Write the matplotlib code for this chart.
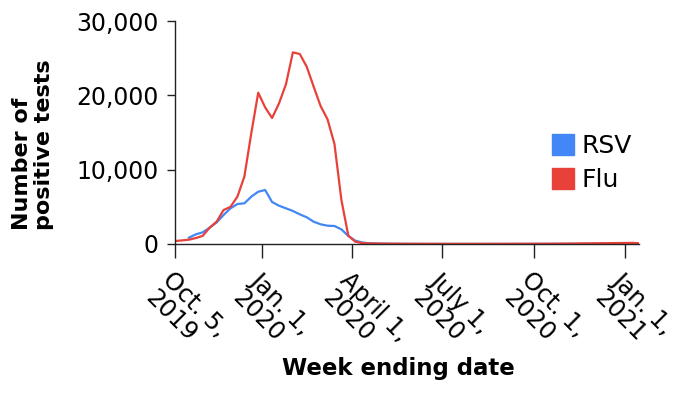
import matplotlib.pyplot as plt
import matplotlib.patches as mpatches
import matplotlib.ticker as mticker
import numpy as np
import pandas as pd

plt.rcParams['font.family'] = ['DejaVu Sans']

week_ending = pd.date_range("2019-10-05", periods=68, freq="7D")

flu = [400, 480, 580, 800, 1100, 2200, 3000, 4570, 5000, 6370,
       9060, 14900, 20350, 18380, 16950, 18920, 21480, 25780, 25560, 23850,
       21160, 18560, 16770, 13450, 5920, 1120, 310, 130, 80,
       60, 50, 40, 35, 30, 30, 25, 25, 25, 20,
       20, 20, 20, 20, 20, 20, 20, 25, 25, 25,
       30, 30, 30, 35, 35, 40, 45, 50, 60, 70,
       80, 90, 100, 110, 120, 130, 140, 150, 100]

rsv = [np.nan, np.nan, 850, 1300, 1570, 2200, 2900, 3900, 4800, 5380,
       5470, 6370, 7030, 7260, 5650, 5150, 4800, 4440, 3990, 3590,
       3000, 2650, 2460, 2420, 1970, 1080, 450, 200, 90,
       60, 40, 30, 25, 20, 15, 15, 10, 10, 10,
       10, 10, 10, 10, 10, 10, 10, 10, 10, 10,
       10, 10, 10, 10, 10, 10, 10, 15, 15, 15,
       20, 20, 20, 25, 25, 30, 30, 30, 30]

tick_dates = pd.to_datetime(["2019-10-05", "2020-01-01", "2020-04-01",
                             "2020-07-01", "2020-10-01", "2021-01-01"])
tick_labels = ["Oct. 5,\n2019", "Jan. 1,\n2020", "April 1,\n2020",
               "July 1,\n2020", "Oct. 1,\n2020", "Jan. 1,\n2021"]

rsv_color = '#4287f5'
flu_color = '#e8413a'

fig = plt.figure(figsize=(6.8, 3.95), dpi=100)
ax = fig.add_axes([0.2574, 0.3823, 0.683, 0.5645])

ax.plot(week_ending, rsv, color=rsv_color, lw=1.6)
ax.plot(week_ending, flu, color=flu_color, lw=1.6)

ax.set_xlim(week_ending[0], week_ending[-1])
ax.set_ylim(0, 30000)
ax.set_yticks([0, 10000, 20000, 30000])
ax.yaxis.set_major_formatter(mticker.FuncFormatter(lambda v, p: f"{int(v):,}"))

ax.set_xticks(tick_dates)
ax.set_xticklabels(tick_labels, rotation=-45, ha='left', va='top',
                   rotation_mode='anchor', linespacing=1.05)

for s in ['top', 'right']:
    ax.spines[s].set_visible(False)
for s in ['left', 'bottom']:
    ax.spines[s].set_color('#222222')
    ax.spines[s].set_linewidth(1.0)

ax.tick_params(axis='y', length=6, width=1, labelsize=17, pad=6, colors='#222222', labelcolor='black')
ax.tick_params(axis='x', length=10, width=1, labelsize=17.5, pad=7, colors='#222222', labelcolor='black')

fig.text(33 / 680, 1 - 145 / 395, "Number of\npositive tests", rotation=90,
         ha='center', va='center', multialignment='left',
         fontsize=16, fontweight='bold', linespacing=1.08)
fig.text(398 / 680, 1 - 368 / 395, "Week ending date", ha='center', va='center',
         fontsize=16.5, fontweight='bold')

handles = [mpatches.Patch(color=rsv_color, label='RSV'),
           mpatches.Patch(color=flu_color, label='Flu')]
fig.legend(handles=handles, loc='upper left', bbox_to_anchor=(552 / 680, 1 - 134 / 395),
           frameon=False, fontsize=18, handlelength=0.88, handleheight=0.88,
           handletextpad=0.32, labelspacing=0.4, borderpad=0, borderaxespad=0)

fig.savefig('out.png', dpi=100)
